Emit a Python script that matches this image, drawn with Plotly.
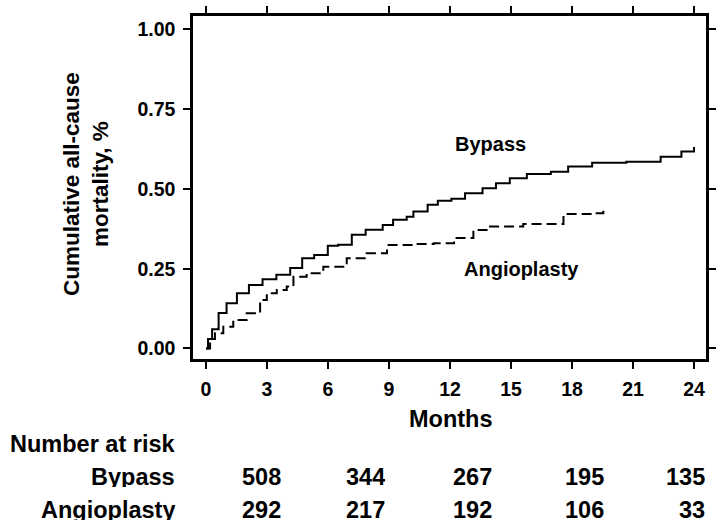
import plotly.graph_objects as go

# ---------------- data ----------------
bypass_months = [0, 0.1, 0.3, 0.62, 1.01, 1.52, 2.11, 2.78, 3.46, 4.14, 4.73, 5.32,
                 5.99, 6.5, 7.17, 7.85, 8.69, 9.2, 9.87, 10.2, 10.9, 11.4, 12.07,
                 12.74, 13.6, 14.26, 14.94, 15.78, 16.96, 17.81, 18.99, 20.67,
                 22.36, 23.38, 24.0]
bypass_mortality = [0.0, 0.03, 0.06, 0.111, 0.142, 0.173, 0.199, 0.217, 0.231, 0.252,
                    0.283, 0.293, 0.322, 0.325, 0.356, 0.372, 0.387, 0.403, 0.413,
                    0.429, 0.45, 0.463, 0.469, 0.486, 0.502, 0.518, 0.533, 0.547,
                    0.554, 0.570, 0.582, 0.585, 0.601, 0.617, 0.631]

angio_months = [0, 0.2, 0.44, 0.85, 1.34, 2.0, 2.66, 2.99, 3.48, 3.97, 4.3, 4.95,
                5.77, 6.92, 7.9, 8.9, 10.2, 11.2, 12.2, 13.15, 13.97, 15.6, 17.58,
                19.0, 19.54]
angio_mortality = [0.0, 0.03, 0.048, 0.068, 0.089, 0.110, 0.152, 0.173, 0.183, 0.194,
                   0.225, 0.236, 0.256, 0.283, 0.298, 0.324, 0.327, 0.33, 0.346,
                   0.371, 0.382, 0.39, 0.421, 0.424, 0.434]

x_ticks = [0, 3, 6, 9, 12, 15, 18, 21, 24]
y_ticks = [0.0, 0.25, 0.5, 0.75, 1.0]
y_tick_labels = ["0.00", "0.25", "0.50", "0.75", "1.00"]

risk_groups = ["Bypass", "Angioplasty"]
risk_bypass = [508, 344, 267, 195, 135]
risk_angio = [292, 217, 192, 106, 33]

# ---------------- layout constants ----------------
W, H = 718, 522
ML, MR, MT, MB = 193, 12, 16, 163
PW = W - ML - MR
PH = H - MT - MB
FONT = "Liberation Sans, Arial, Helvetica, sans-serif"


def paper_x(px):
    return (px - ML) / PW


def paper_y(py):
    return (H - MB - py) / PH


fig = go.Figure()
fig.add_trace(go.Scatter(x=bypass_months, y=bypass_mortality, mode="lines",
                         line=dict(color="black", width=2, shape="hv"),
                         name="Bypass", showlegend=False))
fig.add_trace(go.Scatter(x=angio_months, y=angio_mortality, mode="lines",
                         line=dict(color="black", width=2, shape="hv", dash="10px,5px"),
                         name="Angioplasty", showlegend=False))

axis_common = dict(showline=True, linecolor="black", linewidth=2.5, mirror="allticks",
                   ticks="outside", ticklen=7, tickwidth=2, tickcolor="black",
                   showgrid=False, zeroline=False, automargin=False,
                   tickfont=dict(family=FONT, size=19.5, color="black", weight="bold"))

fig.update_xaxes(range=[-0.64, 24.59], tickvals=x_ticks,
                 ticktext=[str(t) for t in x_ticks], ticklabelstandoff=4, **axis_common)
fig.update_yaxes(range=[-0.033, 1.0417], tickvals=y_ticks, ticktext=y_tick_labels,
                 ticklabelstandoff=4, **axis_common)

annos = []
# curve labels
annos.append(dict(x=14.0, y=0.641, xref="x", yref="y", text="Bypass", showarrow=False,
                  font=dict(family=FONT, size=20, color="black", weight="bold")))
annos.append(dict(x=15.53, y=0.249, xref="x", yref="y", text="Angioplasty", showarrow=False,
                  font=dict(family=FONT, size=20, color="black", weight="bold")))
# y-axis title
annos.append(dict(x=paper_x(86), y=paper_y(184), xref="paper", yref="paper",
                  text="Cumulative all-cause<br>mortality, %", textangle=-90,
                  showarrow=False, xanchor="center", yanchor="middle",
                  font=dict(family=FONT, size=22.5, color="black", weight="bold")))
# x-axis title
annos.append(dict(x=paper_x(451), y=paper_y(419), xref="paper", yref="paper",
                  text="Months", showarrow=False, xanchor="center", yanchor="middle",
                  font=dict(family=FONT, size=23.5, color="black", weight="bold")))
# number at risk table
tf = dict(family=FONT, size=23.5, color="black", weight="bold")
annos.append(dict(x=paper_x(8), y=paper_y(444), xref="paper", yref="paper",
                  text="Number at risk", showarrow=False, xanchor="left",
                  yanchor="middle", font=tf))
row_y = [477, 510]
col_right = [281.5, 386, 493, 605, 706]
for name, vals, ry in zip(risk_groups, [risk_bypass, risk_angio], row_y):
    annos.append(dict(x=paper_x(176), y=paper_y(ry), xref="paper", yref="paper",
                      text=name, showarrow=False, xanchor="right", yanchor="middle",
                      height=20, borderpad=0, font=tf))
    for v, cx in zip(vals, col_right):
        annos.append(dict(x=paper_x(cx), y=paper_y(ry), xref="paper", yref="paper",
                          text=str(v), showarrow=False, xanchor="right",
                          yanchor="middle", height=20, borderpad=0, font=tf))

fig.update_layout(template="none", width=W, height=H,
                  margin=dict(l=ML, r=MR, t=MT, b=MB, autoexpand=False),
                  plot_bgcolor="white", paper_bgcolor="white",
                  annotations=annos, showlegend=False)

fig.write_html("out.html", config={"displayModeBar": False},
               post_script="document.body.style.margin='0px';"
                           "document.body.style.overflow='hidden';")
